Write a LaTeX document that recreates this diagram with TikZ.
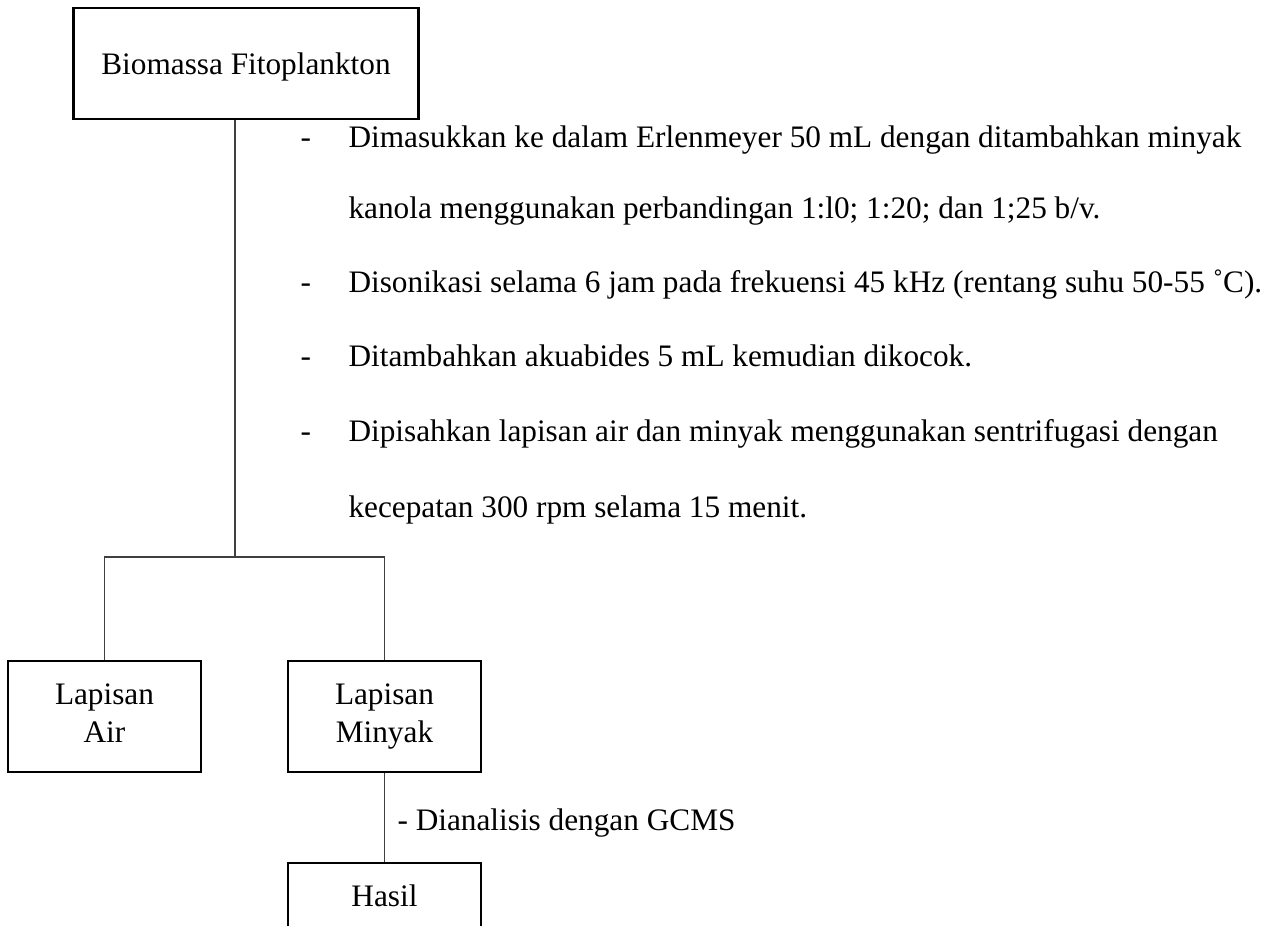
\documentclass[tikz,border=0pt]{standalone}
\usepackage{fontspec}
\setmainfont{Liberation Serif}
\usetikzlibrary{positioning, calc}

\begin{document}
\begin{tikzpicture}[
  x=0.01292cm, y=-0.01292cm,
  every node/.style={font=\fontsize{11.5}{14}\selectfont},
  flowbox/.style={rectangle, draw=black, line width=0.8pt, inner sep=0pt, minimum width=#1, minimum height=40.7pt, align=center, text depth=2.5pt},
  linkline/.style={draw=black!75, line width=0.5pt},
  steptext/.style={anchor=base west, inner sep=0pt},
]
\clip (0,0) rectangle (1285,926);

% Top: starting material
\node[flowbox=126.8pt, text depth=0pt] (bio) at (246,63.5) {Biomassa Fitoplankton};

% Steps
\node[steptext] (dash1) at (300,147) {-};
\node[steptext] (step1a) at (348,147) {Dimasukkan ke dalam Erlenmeyer 50 mL dengan ditambahkan minyak};
\node[steptext] (step1b) at (348,218) {kanola menggunakan perbandingan 1:l0; 1:20; dan 1;25 b/v.};
\node[steptext] (dash2) at (300,292) {-};
\node[steptext] (step2) at (348,292) {Disonikasi selama 6 jam pada frekuensi 45 kHz (rentang suhu 50-55 ˚C).};
\node[steptext] (dash3) at (300,366) {-};
\node[steptext] (step3) at (348,366) {Ditambahkan akuabides 5 mL kemudian dikocok.};
\node[steptext] (dash4) at (300,441) {-};
\node[steptext] (step4a) at (348,441) {Dipisahkan lapisan air dan minyak menggunakan sentrifugasi dengan};
\node[steptext] (step4b) at (348,517) {kecepatan 300 rpm selama 15 menit.};

% Split into two layers
\coordinate (split) at (235,557);
\node[flowbox=70.8pt] (air) at (104.5,716.5) {Lapisan\\Air};
\node[flowbox=70.8pt] (minyak) at (384.5,716.5) {Lapisan\\Minyak};

\draw[linkline] (bio.south -| split) -- (split);
\draw[linkline] (air.north) |- (split) -| (minyak.north);

% Analysis
\node[flowbox=70.8pt] (hasil) at (384.5,918.5) {Hasil\\~};
\draw[linkline] (minyak) -- (hasil);
\node[steptext] (gcms) at (397,830) {- Dianalisis dengan GCMS};

\end{tikzpicture}
\end{document}
